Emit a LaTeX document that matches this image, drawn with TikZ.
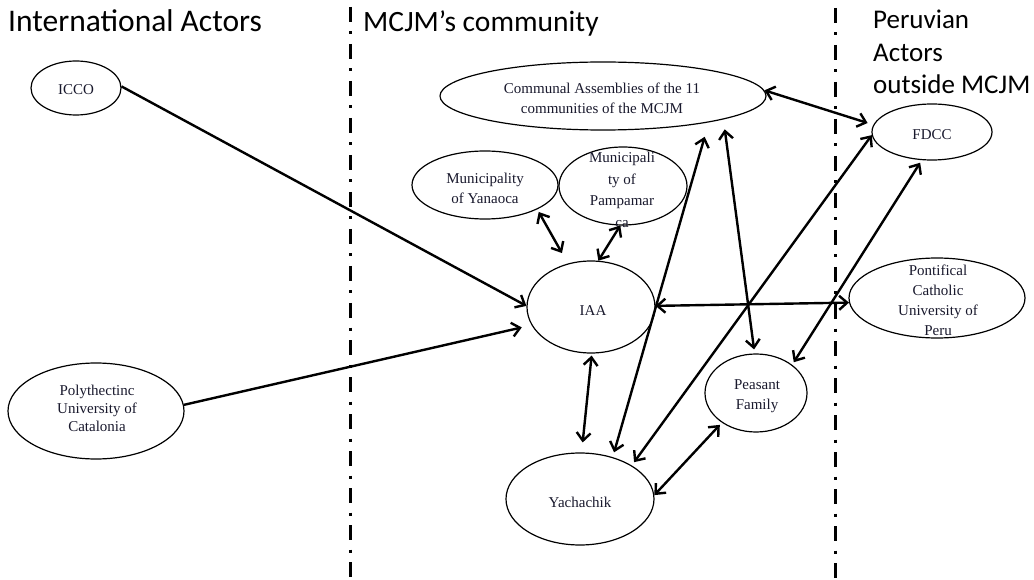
\documentclass[tikz,border=0pt]{standalone}
\usepackage{fontspec}
\setmainfont{Liberation Serif}
\newfontfamily\hdrfont{Carlito}
\usetikzlibrary{shapes.geometric,arrows.meta}
\definecolor{txt}{RGB}{25,25,45}
\begin{document}
\begin{tikzpicture}[x=1pt,y=-1pt,
  ell/.style={draw, ellipse, line width=1.2pt, inner sep=0pt},
  lbl/.style={font=\fontsize{15}{20}\selectfont, text=txt, align=center, inner sep=0pt},
  hdr/.style={font=\hdrfont\fontsize{27}{32}\selectfont, inner sep=0pt, anchor=base west},
  con/.style={line width=2.4pt, {Straight Barb[length=8pt,width=14pt]}-{Straight Barb[length=8pt,width=14pt]}},
  one/.style={line width=2.4pt, -{Straight Barb[length=8pt,width=14pt]}},
  divider/.style={line width=3pt, dash pattern=on 15pt off 9.5pt on 3pt off 9.5pt}
]
\useasboundingbox[fill=white] (0,0) rectangle (1034,580);

% dividers
\coordinate (d1t) at (350,7);
\coordinate (d1b) at (350,580);
\coordinate (d2t) at (835,8);
\coordinate (d2b) at (835,580);
\draw[divider] (d1t) -- (d1b);
\draw[divider] (d2t) -- (d2b);

% headers
\node[hdr, font=\hdrfont\fontsize{31.5}{32}\selectfont] (h1) at (8,32) {International Actors};
\node[hdr, font=\hdrfont\fontsize{29.5}{32}\selectfont] (h2) at (363,32) {MCJM’s community};
\node[hdr] (h3a) at (873,29) {Peruvian};
\node[hdr] (h3b) at (873,61.5) {Actors};
\node[hdr] (h3c) at (873,94) {outside MCJM};

% ellipses
\node[ell, minimum width=90pt, minimum height=54pt] (icco) at (76,88) {};
\node[ell, minimum width=176pt, minimum height=96pt] (poly) at (96,411) {};
\node[ell, minimum width=326pt, minimum height=68pt] (comm) at (603,96) {};
\node[ell, minimum width=146pt, minimum height=68pt] (yan) at (485,185) {};
\node[ell, minimum width=128pt, minimum height=78pt] (pamp) at (623,186) {};
\node[ell, minimum width=128pt, minimum height=92pt] (iaa) at (591,307) {};
\node[ell, minimum width=120pt, minimum height=56pt] (fdcc) at (932,132) {};
\node[ell, minimum width=176pt, minimum height=80pt] (puc) at (937,298) {};
\node[ell, minimum width=102pt, minimum height=78pt] (peas) at (756,393) {};
\node[ell, minimum width=148pt, minimum height=92pt] (yach) at (580,499) {};

% labels
\node[lbl] (ticco) at (76,90) {ICCO};
\node[lbl, font=\fontsize{15}{18}\selectfont] (tpoly) at (97,408) {Polythectinc\\University of\\Catalonia};
\node[lbl] (tcomm) at (602,98) {Communal Assemblies of the 11\\communities of the MCJM};
\node[lbl] (tyan) at (485,188) {Municipality\\of Yanaoca};
\node[lbl, font=\fontsize{15}{21.5}\selectfont] (tpamp) at (622,190) {Municipali\\ty of\\Pampamar\\ca};
\node[lbl] (tiaa) at (593,311) {IAA};
\node[lbl] (tfdcc) at (932,135) {FDCC};
\node[lbl] (tpuc) at (938,300) {Pontifical\\Catholic\\University of\\Peru};
\node[lbl] (tpeas) at (757,396) {Peasant\\Family};
\node[lbl] (tyach) at (580,502) {Yachachik};

% connectors
\draw[one] (icco.2) -- (iaa.179);
\draw[one, shorten >=10pt] (poly.4) -- (iaa.197);
\draw[con, shorten <=3pt, shorten >=12pt] (yan.-25) -- (iaa.118);
\draw[con] (pamp.266) -- (iaa.81);
\draw[con, shorten >=6pt] (comm.2) -- (fdcc.173);
\draw[con, shorten <=15pt, shorten >=5pt] (comm.-14) -- (yach.52);
\draw[con, shorten <=10pt, shorten >=4pt] (comm.-11) -- (peas.92);
\draw[con, shorten <=4pt] (yach.33) -- (fdcc.183);
\draw[con, shorten <=3pt, shorten >=3pt] (peas.38) -- (fdcc.250);
\draw[con] (iaa.1) -- (puc.183);
\draw[con, shorten <=2pt, shorten >=10pt] (iaa.-89) -- (yach.88);
\draw[con, shorten >=3pt] (yach.3) -- (peas.221);
\end{tikzpicture}
\end{document}
